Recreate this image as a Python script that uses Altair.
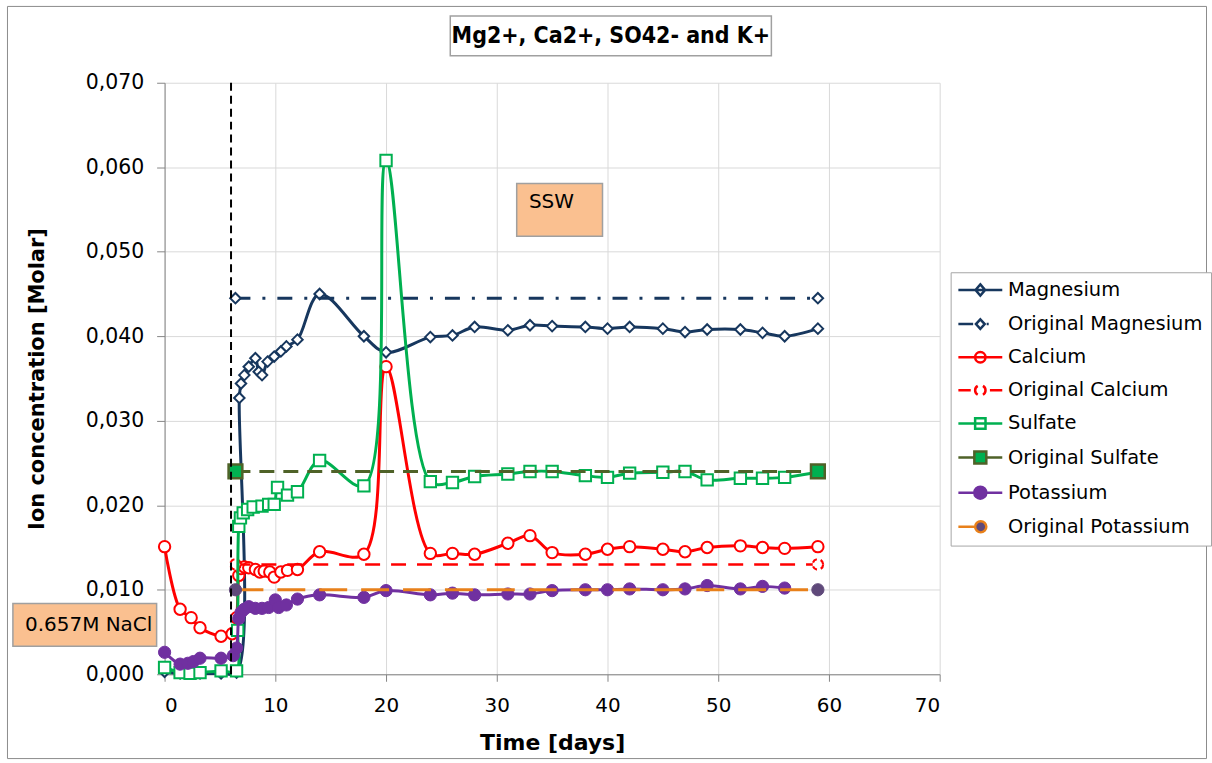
import altair as alt
import pandas as pd

SERIES = ["Magnesium", "Original Magnesium", "Calcium", "Original Calcium",
          "Sulfate", "Original Sulfate", "Potassium", "Original Potassium"]

X_TICKS = [0, 10, 20, 30, 40, 50, 60, 70]
Y_TICKS = [0.0, 0.01, 0.02, 0.03, 0.04, 0.05, 0.06, 0.07]

mg_days = [0, 1.4, 2.3, 3.2, 5.1, 6.5, 6.75, 6.9, 7.2, 7.6, 8.2, 8.5, 8.8, 9.3, 9.9, 10.5, 11.0, 12.0,
           14, 18, 20, 24, 26, 28, 31, 33, 35, 38, 40, 42, 45, 47, 49, 52, 54, 56, 59]
mg_vals = [0.0003, 0.0001, 0.0001, 0.0001, 0.0001, 0.0002, 0.0327, 0.0344, 0.0354, 0.0364, 0.0374, 0.0358,
           0.0354, 0.0370, 0.0376, 0.0382, 0.0388, 0.0396, 0.0450, 0.0400, 0.0381, 0.0399, 0.0401, 0.0411,
           0.0407, 0.0413, 0.0412, 0.0411, 0.0409, 0.0411, 0.0409, 0.0405, 0.0408, 0.0408, 0.0404, 0.0400, 0.0409]

ca_days = [0, 1.4, 2.4, 3.2, 5.1, 6.1, 6.5, 6.7, 6.9, 7.2, 7.6, 8.2, 8.6, 9.0, 9.5, 9.9, 10.5, 11.1, 12.0,
           14, 18, 20, 24, 26, 28, 31, 33, 35, 38, 40, 42, 45, 47, 49, 52, 54, 56, 59]
ca_vals = [0.0151, 0.0077, 0.0067, 0.0055, 0.0045, 0.0048, 0.0067, 0.0117, 0.0125, 0.0127, 0.0126, 0.0124,
           0.0121, 0.0122, 0.0121, 0.0115, 0.0121, 0.0123, 0.0124, 0.0145, 0.0142, 0.0364, 0.0143, 0.0143,
           0.0142, 0.0155, 0.0164, 0.0144, 0.0142, 0.0148, 0.0151, 0.0148, 0.0145, 0.0150, 0.0152, 0.0150,
           0.0149, 0.0151]

so4_days = [0, 1.4, 2.3, 3.2, 5.1, 6.5, 6.6, 6.7, 6.85, 7.1, 7.5, 8.0, 8.8, 9.4, 9.9, 10.2, 11.1, 12.0,
            14, 18, 20, 24, 26, 28, 31, 33, 35, 38, 40, 42, 45, 47, 49, 52, 54, 56, 59]
so4_vals = [0.0008, 0.0002, 0.0001, 0.0002, 0.0004, 0.0004, 0.0052, 0.0175, 0.0185, 0.0191, 0.0195, 0.0198,
            0.0199, 0.0201, 0.0201, 0.0221, 0.0212, 0.0216, 0.0253, 0.0223, 0.0608, 0.0228, 0.0227, 0.0234,
            0.0237, 0.0240, 0.0240, 0.0235, 0.0233, 0.0238, 0.0239, 0.0240, 0.0230, 0.0232, 0.0232, 0.0233,
            0.0239]

k_days = [0, 1.4, 2.1, 2.6, 3.2, 5.1, 6.2, 6.5, 6.7, 6.9, 7.2, 7.6, 8.2, 8.8, 9.4, 10.0, 10.3, 11.0, 12.0,
          14, 18, 20, 24, 26, 28, 31, 33, 35, 38, 40, 42, 45, 47, 49, 52, 54, 56]
k_vals = [0.0026, 0.0012, 0.0013, 0.0015, 0.0019, 0.0019, 0.0022, 0.0031, 0.0066, 0.0073, 0.0077, 0.0080,
          0.0078, 0.0078, 0.0079, 0.0088, 0.0079, 0.0082, 0.0089, 0.0094, 0.0091, 0.0099, 0.0094, 0.0096,
          0.0094, 0.0095, 0.0095, 0.0099, 0.0100, 0.0100, 0.0101, 0.0100, 0.0101, 0.0105, 0.0101, 0.0104,
          0.0102]

orig_days = [6.4, 59]
orig_mg = [0.0445, 0.0445]
orig_ca = [0.0130, 0.0130]
orig_so4 = [0.0240, 0.0240]
orig_k = [0.0100, 0.0100]

injection_day = [6.0]

# ---------------- build table ----------------
rows = []
for name, days, vals in [("Magnesium", mg_days, mg_vals), ("Original Magnesium", orig_days, orig_mg),
                         ("Calcium", ca_days, ca_vals), ("Original Calcium", orig_days, orig_ca),
                         ("Sulfate", so4_days, so4_vals), ("Original Sulfate", orig_days, orig_so4),
                         ("Potassium", k_days, k_vals), ("Original Potassium", orig_days, orig_k)]:
    for d, v in zip(days, vals):
        rows.append({"series": name, "day": d, "conc": v})
df = pd.DataFrame(rows)

NAVY = "#17375E"
RED = "#FF0000"
GREEN = "#00B050"
OLIVE = "#4F6228"
PURPLE = "#7030A0"
ORANGE = "#E8801A"
KGRAY = "#5F497A"

FONT = "DejaVu Sans"
TITLE_FONT = "DejaVu Sans Condensed, Roboto Condensed, Liberation Sans Narrow, DejaVu Sans, sans-serif"

X_SCALE = alt.Scale(domain=[0, 70], nice=False, zero=False)
Y_SCALE = alt.Scale(domain=[0, 0.07], nice=False)

x_axis = alt.Axis(values=X_TICKS, grid=True, gridColor="#D9D9D9", gridWidth=1,
                  domainColor="#868686", tickColor="#868686", tickSize=7,
                  labelFont=FONT, labelFontSize=20, labelColor="black", labelPadding=14,
                  titleFont=FONT, titleFontWeight="bold", titleFontSize=22, titleColor="black",
                  titlePadding=17)
y_axis = alt.Axis(values=Y_TICKS, grid=True, gridColor="#D9D9D9", gridWidth=1,
                  labelExpr="replace(format(datum.value, '.3f'), '.', ',')",
                  domainColor="#868686", tickColor="#868686", tickSize=8,
                  labelFont=FONT, labelFontSize=20.5, labelColor="black", labelPadding=13,
                  titleFont=FONT, titleFontWeight="bold", titleFontSize=21, titleColor="black",
                  titlePadding=38)


def X(field="day"):
    return alt.X(f"{field}:Q", scale=X_SCALE, axis=x_axis, title="Time [days]")


def Y(field="conc"):
    return alt.Y(f"{field}:Q", scale=Y_SCALE, axis=y_axis, title="Ion concentration [Molar]")


base = alt.Chart(df)

SMOOTH = "catmull-rom"
STYLE = {
    "Magnesium": dict(color=NAVY, width=3, dash=None, interp=SMOOTH,
                      pt=dict(shape="diamond", size=110, fill="white", stroke=NAVY, strokeWidth=2)),
    "Original Magnesium": dict(color=NAVY, width=3, dash=[15, 12, 3, 12], interp="linear",
                               pt=dict(shape="diamond", size=110, fill="white", stroke=NAVY, strokeWidth=2)),
    "Calcium": dict(color=RED, width=3, dash=None, interp=SMOOTH,
                    pt=dict(shape="circle", size=130, fill="white", stroke=RED, strokeWidth=2)),
    "Original Calcium": dict(color=RED, width=2.5, dash=[15, 11], interp="linear",
                             pt=dict(shape="circle", size=110, fill="white", stroke=RED, strokeWidth=2.2,
                                     strokeDash=[5, 4])),
    "Sulfate": dict(color=GREEN, width=3, dash=None, interp=SMOOTH,
                    pt=dict(shape="square", size=130, fill="white", stroke=GREEN, strokeWidth=2)),
    "Original Sulfate": dict(color=OLIVE, width=3, dash=[15, 9], interp="linear",
                             pt=dict(shape="square", size=190, fill=GREEN, stroke=OLIVE, strokeWidth=2.5)),
    "Potassium": dict(color=PURPLE, width=3, dash=None, interp=SMOOTH,
                      pt=dict(shape="circle", size=150, fill=PURPLE, stroke=PURPLE, strokeWidth=1)),
    "Original Potassium": dict(color=ORANGE, width=3, dash=[28, 14], interp="linear",
                               pt=dict(shape="circle", size=150, fill=KGRAY, stroke=KGRAY, strokeWidth=1)),
}

layers = []
for s in SERIES:
    st = STYLE[s]
    sub = base.transform_filter(alt.datum.series == s)
    line_kw = dict(color=st["color"], strokeWidth=st["width"], interpolate=st["interp"])
    if st["dash"]:
        line_kw["strokeDash"] = st["dash"]
    layers.append(sub.mark_line(**line_kw).encode(x=X(), y=Y()))
    layers.append(sub.mark_point(filled=True, opacity=1, **st["pt"]).encode(x=X(), y=Y()))

# injection line
vline_df = pd.DataFrame({"day": injection_day, "lo": [0.0], "hi": [0.07]})
layers.append(alt.Chart(vline_df).mark_rule(color="black", strokeDash=[8, 5], strokeWidth=2).encode(
    x=X(), y=Y("lo"), y2=alt.Y2("hi:Q")))

# annotation boxes (data coordinates)
boxes = pd.DataFrame({
    "day": [31.8, -13.7, 25.8],
    "day2": [39.55, -0.72, 54.8],
    "conc": [0.05808, 0.00838, 0.07791],
    "conc2": [0.05182, 0.00331, 0.07319],
    "fill": ["#FAC090", "#FAC090", "white"],
})
layers.append(alt.Chart(boxes).mark_rect(stroke="#A0A0A0", strokeWidth=1.5).encode(
    x=X(), x2=alt.X2("day2:Q"), y=Y(), y2=alt.Y2("conc2:Q"),
    fill=alt.Fill("fill:N", scale=None)))

labels = pd.DataFrame({
    "day": [32.9, -12.6],
    "conc": [0.0559, 0.00584],
    "text": ["SSW", "0.657M NaCl"],
})
layers.append(alt.Chart(labels).mark_text(font=FONT, fontSize=20, align="left", baseline="middle",
                                          color="black").encode(x=X(), y=Y(), text="text:N"))

title_df = pd.DataFrame({"day": [40.3], "conc": [0.07555], "text": ["Mg2+, Ca2+, SO42- and K+"]})
layers.append(alt.Chart(title_df).mark_text(font=TITLE_FONT, fontSize=23, fontWeight="bold",
                                            align="center", baseline="middle", color="black").encode(
    x=X(), y=Y(), text="text:N"))

# outer frame of the whole chart
frame_df = pd.DataFrame({"k": [0]})
layers.append(alt.Chart(frame_df).mark_rect(fill=None, stroke="#8C8C8C", strokeWidth=1).encode(
    x=alt.value(-157.5), x2=alt.value(1044.5), y=alt.value(-76.5), y2=alt.value(677.5)))

# legend (custom symbols: line + marker)
L = 2.75
leg_shapes = [
    f"M-{L},0H{L}M0,-0.7L0.6,0L0,0.7L-0.6,0Z",
    f"M-{L},0H-0.9M0.8,0H1.05M0,-0.6L0.55,0L0,0.6L-0.55,0Z",
    f"M-{L},0H{L}M0.65,0A0.65,0.65 0 1,1 -0.65,0A0.65,0.65 0 1,1 0.65,0Z",
    f"M-{L},0H-1.2M1.2,0H{L}M-0.33,-0.56A0.65,0.65 0 0,0 -0.33,0.56M0.33,-0.56A0.65,0.65 0 0,1 0.33,0.56",
    f"M-{L},0H{L}M-0.65,-0.65H0.65V0.65H-0.65Z",
    f"M-{L},0H-0.75M0.75,0H{L}M-0.75,-0.75H0.75V0.75H-0.75Z",
    f"M-{L},0H{L}M0.75,0A0.75,0.75 0 1,1 -0.75,0A0.75,0.75 0 1,1 0.75,0Z",
    f"M-{L},0H-0.8M0.75,0A0.7,0.7 0 1,1 -0.65,0A0.7,0.7 0 1,1 0.75,0Z",
]
leg_strokes = [NAVY, NAVY, RED, RED, GREEN, OLIVE, PURPLE, ORANGE]
leg_fills = ["white", "white", "white", "white", "white", GREEN, PURPLE, KGRAY]

leg = alt.Legend(title=None, orient="none", legendX=788, legendY=190,
                 labelFont=FONT, labelFontSize=19.5, labelColor="black",
                 symbolSize=256, symbolStrokeWidth=2.5, symbolOffset=12, labelOffset=18,
                 rowPadding=12.2, padding=8, strokeColor="#A6A6A6", fillColor="white",
                 symbolLimit=0, labelLimit=400)

layers.append(base.transform_filter("false").mark_point(opacity=1, filled=True).encode(
    x=X(), y=Y(),
    shape=alt.Shape("series:N", scale=alt.Scale(domain=SERIES, range=leg_shapes), legend=leg),
    stroke=alt.Stroke("series:N", scale=alt.Scale(domain=SERIES, range=leg_strokes), legend=leg),
    fill=alt.Fill("series:N", scale=alt.Scale(domain=SERIES, range=leg_fills), legend=leg),
))

chart = alt.layer(*layers).properties(
    width=777, height=593,
    padding={"left": 7, "top": 5, "right": 0, "bottom": 0},
    background="white",
).configure_view(stroke=None)

chart.save("out.html", embed_options={"renderer": "svg", "actions": False})
